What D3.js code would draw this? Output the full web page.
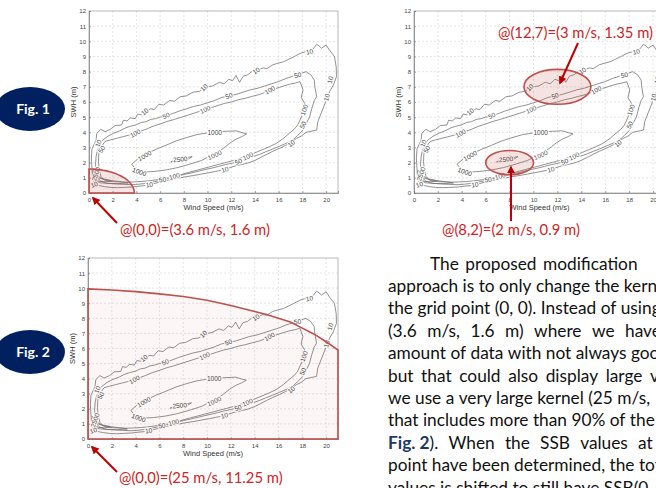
<!DOCTYPE html>
<html>
<head>
<meta charset="utf-8">
<script src="https://cdn.jsdelivr.net/npm/d3@7/dist/d3.min.js"></script>
<style>
html, body { margin: 0; padding: 0; background: #fff; overflow: hidden; }
svg { display: block; }
</style>
</head>
<body>
<script>
// axis ticks (wind speed m/s, SWH m)
var xTicks = [0, 2, 4, 6, 8, 10, 12, 14, 16, 18, 20];
var yTicks = [0, 1, 2, 3, 4, 5, 6, 7, 8, 9, 10, 11, 12];

// contour lines, [wind speed, SWH]
var contour10 = [[0.25,2.9],[0.6,3.5],[0.65,3.93],[1.0,4.2],[1.35,4.04],[1.8,4.2],[2.2,4.45],[2.75,4.48],[2.9,4.8],[3.2,4.75],[3.5,4.95],[3.9,4.9],[4.1,5.2],[4.5,5.15],[4.8,5.4],[5.2,5.55],[5.5,5.5],[5.9,5.85],[6.3,5.8],[6.8,6.1],[7.2,6.05],[7.7,6.35],[8.2,6.4],[8.8,6.65],[9.3,6.7],[9.9,7.0],[10.4,7.05],[11.0,7.3],[11.4,7.2],[11.8,7.5],[12.1,7.4],[12.4,7.75],[12.7,7.3],[13.0,7.7],[13.4,7.8],[13.8,8.05],[14.2,8.1],[14.7,8.25],[15.0,8.2],[15.5,8.45],[15.9,8.55],[16.4,8.65],[16.8,8.8],[17.2,8.95],[17.8,9.2],[18.2,9.3],[18.6,9.35],[18.9,9.5],[19.2,9.8],[19.4,9.7],[19.6,9.55],[20.0,9.75],[20.3,9.4],[20.7,9.0],[20.85,8.3],[20.87,7.67],[20.6,7.1],[20.3,6.7],[20.0,6.1],[19.6,5.3],[19.3,4.7],[19.2,4.15],[18.3,4.0],[17.9,3.75],[17.5,3.6],[17.1,3.35],[16.6,3.15],[16.1,2.95],[15.5,2.75],[15.0,2.55],[14.5,2.35],[14.0,2.15],[13.5,2.0],[13.0,1.9],[12.4,1.8],[11.8,1.65],[11.3,1.52],[10.7,1.43],[10.2,1.35],[9.5,1.25],[8.8,1.15],[8.0,1.05],[7.4,0.95],[6.7,0.85],[6.0,0.73],[5.4,0.6],[4.9,0.5],[4.2,0.45],[3.7,0.4],[3.0,0.37],[2.4,0.35],[1.8,0.37],[1.3,0.42],[0.8,0.5],[0.45,0.65],[0.3,1.0],[0.25,1.6],[0.2,2.3]];
var contour50 = [[0.7,2.8],[1.1,3.45],[1.6,3.75],[2.1,3.95],[2.6,4.1],[3.1,4.3],[3.5,4.4],[4.0,4.5],[4.4,4.65],[4.8,4.7],[5.2,4.85],[5.6,4.9],[6.0,5.0],[6.6,5.1],[7.1,5.25],[7.6,5.4],[8.2,5.55],[8.8,5.7],[9.4,5.8],[10.0,5.95],[10.6,6.1],[11.2,6.3],[11.8,6.4],[12.4,6.5],[13.0,6.65],[13.6,6.8],[14.2,6.9],[14.8,7.05],[15.4,7.2],[16.0,7.35],[16.6,7.55],[17.2,7.7],[17.6,7.8],[18.3,8.0],[18.7,7.8],[19.0,7.45],[19.05,7.0],[19.2,6.35],[19.0,6.1],[18.8,5.6],[18.6,5.0],[18.3,4.55],[18.05,4.15],[17.6,3.8],[17.2,3.5],[16.7,3.3],[16.1,3.1],[15.5,2.9],[15.0,2.75],[14.4,2.55],[13.9,2.42],[13.3,2.27],[12.6,2.07],[12.1,1.97],[11.5,1.87],[10.9,1.75],[10.4,1.65],[9.8,1.55],[9.3,1.45],[8.6,1.32],[8.0,1.22],[7.4,1.1],[6.8,0.98],[6.2,0.86],[5.5,0.74],[4.9,0.64],[4.2,0.58],[3.6,0.55],[2.9,0.57],[2.2,0.6],[1.5,0.65],[1.0,0.78],[0.7,1.0],[0.6,1.4],[0.55,1.9],[0.6,2.4]];
var contour100 = [[0.9,2.9],[1.35,3.4],[1.8,3.5],[2.3,3.6],[2.8,3.7],[3.3,3.8],[3.9,3.93],[4.3,4.05],[4.8,4.2],[5.4,4.4],[6.0,4.55],[6.6,4.72],[7.2,4.85],[7.8,5.0],[8.4,5.15],[9.0,5.3],[9.8,5.5],[10.2,5.6],[10.8,5.75],[11.4,5.9],[12.0,6.0],[12.6,6.15],[13.2,6.25],[13.8,6.38],[14.4,6.5],[15.25,6.75],[15.6,6.85],[16.2,7.0],[16.8,7.15],[17.4,7.25],[17.8,7.34],[18.05,6.8],[17.9,6.3],[18.2,5.9],[18.05,5.25],[17.6,4.48],[17.3,4.2],[16.9,3.94],[16.4,3.6],[15.8,3.27],[15.2,3.05],[14.6,2.85],[14.0,2.65],[13.4,2.45],[12.8,2.3],[12.2,2.15],[11.6,2.02],[11.0,1.9],[10.4,1.77],[9.8,1.65],[9.2,1.52],[8.6,1.4],[8.0,1.27],[7.4,1.12],[6.8,1.02],[6.2,0.93],[5.6,0.86],[5.0,0.8],[4.4,0.76],[3.8,0.73],[3.2,0.72],[2.5,0.73],[1.8,0.76],[1.3,0.85],[1.0,1.1],[0.85,1.6],[0.8,2.1],[0.82,2.5]];
var contour1000 = [[3.6,1.9],[4.2,2.3],[4.9,2.6],[5.7,2.9],[6.5,3.15],[7.4,3.45],[8.2,3.65],[9.1,3.85],[9.9,3.95],[10.8,4.03],[11.6,4.07],[12.4,4.1],[12.9,3.98],[13.3,3.9],[12.9,3.72],[12.4,3.55],[11.9,3.3],[11.5,3.05],[11.0,2.75],[10.5,2.5],[10.0,2.35],[9.5,2.15],[8.5,1.9],[7.5,1.68],[6.5,1.52],[5.5,1.42],[4.6,1.38],[4.0,1.5]];
var contour2500 = [[6.9,2.05],[7.3,2.18],[8.2,2.33],[8.7,2.4],[8.3,2.2],[7.5,2.05]];
var contour1000b = [[0.35,1.5],[0.6,1.2],[1.1,0.95],[1.9,0.82],[2.7,0.74],[3.3,0.66],[2.5,0.62],[1.6,0.63],[0.9,0.68],[0.5,0.85],[0.35,1.15]];
var contour2500b = [[0.45,1.3],[0.75,1.02],[1.3,0.88],[1.9,0.8],[1.4,0.74],[0.85,0.77],[0.5,0.95]];
var contours = [contour10, contour50, contour100, contour1000, contour2500, contour1000b, contour2500b];

// inline contour labels: text, wind speed, SWH, rotation (deg)
var labelText = ["10","10","50","10","50","100","10","50","100","100","10","50","1000","1000","2500","1000","1000","100","50","10","100","50","10","100","50","10","10","10","2500","10"];
var labelX = [18.6,14.1,17.6,9.7,11.8,15.25,4.7,6.5,9.8,3.9,0.79,1.07,10.6,4.7,7.7,10.6,4.25,18.15,18.05,17.07,13.4,12.6,11.46,7.2,6.2,5.1,20.35,20.05,0.6,0.45];
var labelY = [9.32,8.05,7.78,6.95,6.4,6.78,5.36,5.1,5.5,3.93,3.27,2.88,4.0,2.45,2.22,2.5,1.4,5.47,4.48,3.27,2.42,2.07,1.55,1.1,0.88,0.55,7.45,6.3,1.25,0.55];
var labelAngle = [-12,-35,-10,-45,-20,-30,-40,-25,-25,-30,-70,-60,0,-30,-5,-25,20,-70,-65,-40,-25,-20,-15,-15,-10,-10,-75,-75,-70,-20];

// kernels
var kernelFig1 = [3.82, 1.58];                 // quarter ellipse radii at (0,0)
var kernelCenters = [[12, 7], [8, 2]];         // ellipses in second panel
var kernelRadii = [[2.8, 1.15], [2.0, 0.8]];
var bigKernelX = [0, 2, 4, 6, 8, 10, 12, 14, 15, 16, 17, 18, 19, 20, 21];
var bigKernelY = [9.95, 9.88, 9.77, 9.62, 9.45, 9.2, 8.85, 8.45, 8.25, 8.0, 7.75, 7.35, 6.95, 6.45, 5.9];

// paragraph lines: text, start x, start of last word (null = normal spacing)
var paraText = [
  "The proposed modification",
  "approach is to only change the kernel",
  "the grid point (0, 0). Instead of using",
  "(3.6 m/s, 1.6 m) where we have",
  "amount of data with not always good",
  "but that could also display large values",
  "we use a very large kernel (25 m/s,",
  "that includes more than 90% of the",
  "Fig.\u00a02). When the SSB values at",
  "point have been determined, the total",
  "values is shifted to still have SSB(0, 0)"
];
var paraX0 = [430, 388, 388, 388, 388, 388, 388, 388, 388, 388, 388];
var paraLast = [543, null, null, 625, null, 650, null, null, 638, null, null];

var red = "#c0504d", redText = "#cc2424", navy = "#002060";

var svg = d3.select("body").append("svg")
    .attr("width", 656)
    .attr("height", 488);

svg.append("defs").append("marker")
    .attr("id", "arrow")
    .attr("viewBox", "0 0 10 10")
    .attr("refX", 8).attr("refY", 5)
    .attr("markerWidth", 4).attr("markerHeight", 4)
    .attr("orient", "auto")
    .append("path")
    .attr("d", "M0,0L10,5L0,10z")
    .attr("fill", "#c00000");

//draw one contour panel
function drawPanel(left, top, width, height){
    var g = svg.append("g").attr("transform", "translate(" + left + "," + top + ")");
    var x = d3.scaleLinear().domain([0, 21]).range([0, width]);
    var y = d3.scaleLinear().domain([0, 12]).range([height, 0]);

    //dashed grid
    g.selectAll(".vgrid")
        .data(xTicks.filter(function(d){ return d > 0; }))
        .enter().append("line")
        .attr("x1", x).attr("x2", x)
        .attr("y1", 0).attr("y2", height)
        .attr("stroke", "#d4d4d4").attr("stroke-width", 0.6)
        .attr("stroke-dasharray", "2,2");
    g.selectAll(".hgrid")
        .data(yTicks.filter(function(d){ return d > 0 && d < 12; }))
        .enter().append("line")
        .attr("y1", y).attr("y2", y)
        .attr("x1", 0).attr("x2", width)
        .attr("stroke", "#d4d4d4").attr("stroke-width", 0.6)
        .attr("stroke-dasharray", "2,2");

    //box
    g.append("rect")
        .attr("width", width).attr("height", height)
        .attr("fill", "none").attr("stroke", "#9a9a9a").attr("stroke-width", 0.7);

    var xAxis = g.append("g")
        .attr("transform", "translate(0," + height + ")")
        .call(d3.axisBottom(x).tickValues(xTicks).tickSize(-2).tickPadding(5));
    var yAxis = g.append("g")
        .call(d3.axisLeft(y).tickValues(yTicks).tickSize(-2).tickPadding(3));
    [xAxis, yAxis].forEach(function(a){
        a.select(".domain").attr("stroke", "#777").attr("stroke-width", 0.7);
        a.selectAll(".tick line").attr("stroke", "#777").attr("stroke-width", 0.6);
        a.selectAll("text")
            .attr("font-family", "'Liberation Sans', Arial, sans-serif")
            .attr("font-size", 6).attr("fill", "#444");
    });

    //contour lines
    var line = d3.line()
        .x(function(d){ return x(d[0]); })
        .y(function(d){ return y(d[1]); })
        .curve(d3.curveLinearClosed);
    g.selectAll(".contour")
        .data(contours)
        .enter().append("path")
        .attr("d", line)
        .attr("fill", "none")
        .attr("stroke", "#6e6e6e")
        .attr("stroke-width", 0.75);

    //contour labels
    g.selectAll(".clabel")
        .data(labelText)
        .enter().append("text")
        .attr("transform", function(d, i){
            return "translate(" + x(labelX[i]) + "," + y(labelY[i]) + ") rotate(" + labelAngle[i] + ")";
        })
        .attr("text-anchor", "middle")
        .attr("dy", "0.35em")
        .attr("font-family", "'Liberation Sans', Arial, sans-serif")
        .attr("font-size", 6.5)
        .attr("fill", "#444")
        .attr("stroke", "#fff").attr("stroke-width", 2.2)
        .attr("paint-order", "stroke")
        .text(function(d){ return d; });

    //axis titles
    g.append("text")
        .attr("x", width / 2).attr("y", height + 16.5)
        .attr("text-anchor", "middle")
        .attr("font-family", "'Liberation Sans', Arial, sans-serif")
        .attr("font-size", 7.5).attr("fill", "#333")
        .text("Wind Speed (m/s)");
    g.append("text")
        .attr("transform", "translate(-13," + (height / 2) + ") rotate(-90)")
        .attr("text-anchor", "middle")
        .attr("font-family", "'Liberation Sans', Arial, sans-serif")
        .attr("font-size", 7.5).attr("fill", "#333")
        .text("SWH (m)");

    return {g: g, x: x, y: y};
}

var p1 = drawPanel(89, 11, 249, 182);
var p2 = drawPanel(414, 11, 251, 182);
var p3 = drawPanel(88, 258, 250, 181);

//Fig. 1 kernel at origin (quarter ellipse)
var quarter = d3.range(0, 91, 3).map(function(a){
    var t = a * Math.PI / 180;
    return [kernelFig1[0] * Math.cos(t), kernelFig1[1] * Math.sin(t)];
});
quarter.push([0, 0]);
p1.g.append("path")
    .datum(quarter)
    .attr("d", d3.line().x(function(d){ return p1.x(d[0]); }).y(function(d){ return p1.y(d[1]); }).curve(d3.curveLinearClosed))
    .attr("fill", "rgba(192,80,77,0.15)")
    .attr("stroke", red).attr("stroke-width", 1.6);

//second panel kernels
p2.g.selectAll(".kernel")
    .data(kernelCenters)
    .enter().append("ellipse")
    .attr("cx", function(d){ return p2.x(d[0]); })
    .attr("cy", function(d){ return p2.y(d[1]); })
    .attr("rx", function(d, i){ return p2.x(kernelRadii[i][0]) - p2.x(0); })
    .attr("ry", function(d, i){ return p2.y(0) - p2.y(kernelRadii[i][1]); })
    .attr("fill", "rgba(192,80,77,0.16)")
    .attr("stroke", red).attr("stroke-width", 1.6);

//Fig. 2 large kernel region
var bigPts = bigKernelX.map(function(d, i){ return [d, bigKernelY[i]]; });
bigPts.push([21, 0], [0, 0]);
p3.g.append("path")
    .datum(bigPts)
    .attr("d", d3.line().x(function(d){ return p3.x(d[0]); }).y(function(d){ return p3.y(d[1]); }).curve(d3.curveLinearClosed))
    .attr("fill", "rgba(192,80,77,0.05)")
    .attr("stroke", red).attr("stroke-width", 1.6);

//arrows and red captions
var arrows = [[117, 223, 93, 198], [117, 472, 92, 447], [578, 43, 560, 83], [511, 221, 511, 167]];
svg.selectAll(".arrow")
    .data(arrows)
    .enter().append("line")
    .attr("x1", function(d){ return d[0]; }).attr("y1", function(d){ return d[1]; })
    .attr("x2", function(d){ return d[2]; }).attr("y2", function(d){ return d[3]; })
    .attr("stroke", "#c00000").attr("stroke-width", 2)
    .attr("marker-end", "url(#arrow)");

var captions = [["@(0,0)=(3.6 m/s, 1.6 m)", 120, 235], ["@(0,0)=(25 m/s, 11.25 m)", 119, 483],
                ["@(12,7)=(3 m/s, 1.35 m)", 498, 38], ["@(8,2)=(2 m/s, 0.9 m)", 442, 235]];
svg.selectAll(".caption")
    .data(captions)
    .enter().append("text")
    .attr("x", function(d){ return d[1]; })
    .attr("y", function(d){ return d[2]; })
    .attr("font-family", "Lato, 'Open Sans', sans-serif")
    .attr("font-size", 14.8)
    .attr("fill", redText)
    .text(function(d){ return d[0]; });

//Fig. badges
var badges = [["Fig. 1", 109], ["Fig. 2", 352]];
var badge = svg.selectAll(".badge")
    .data(badges)
    .enter().append("g");
badge.append("ellipse")
    .attr("cx", 30).attr("cy", function(d){ return d[1]; })
    .attr("rx", 35).attr("ry", 22)
    .attr("fill", navy);
badge.append("text")
    .attr("x", 33).attr("y", function(d){ return d[1] + 5; })
    .attr("text-anchor", "middle")
    .attr("font-family", "Lato, 'Open Sans', sans-serif")
    .attr("font-weight", "bold").attr("font-size", 14)
    .attr("fill", "#fff")
    .text(function(d){ return d[0]; });

//paragraph, one line at a time (justified lines spread word by word)
var paraSize = 17.3;
var para = svg.append("g")
    .attr("font-family", "Lato, 'Open Sans', sans-serif")
    .attr("font-size", paraSize)
    .attr("fill", "#111");

function fillToken(t, word){
    if (word.indexOf("Fig.") === 0){
        t.append("tspan").attr("font-weight", "bold").attr("fill", "#1f3864").text("Fig.\u00a02");
        t.append("tspan").text(word.slice(6));
    } else {
        t.text(word);
    }
}
function measure(word){
    var t = para.append("text");
    fillToken(t, word);
    var w = t.node().getComputedTextLength();
    t.remove();
    return w;
}
var spaceW = measure("a\u00a0a") - measure("aa");

paraText.forEach(function(txt, i){
    var words = txt.split(" ");
    var widths = words.map(measure);
    var gap = spaceW;
    if (paraLast[i] !== null){
        gap = (paraLast[i] - paraX0[i] - d3.sum(widths.slice(0, -1))) / (words.length - 1);
    }
    var xPos = paraX0[i];
    words.forEach(function(w, j){
        var t = para.append("text")
            .attr("x", xPos)
            .attr("y", 269.5 + 22.4 * i);
        fillToken(t, w);
        xPos += widths[j] + gap;
    });
});
</script>
</body>
</html>
